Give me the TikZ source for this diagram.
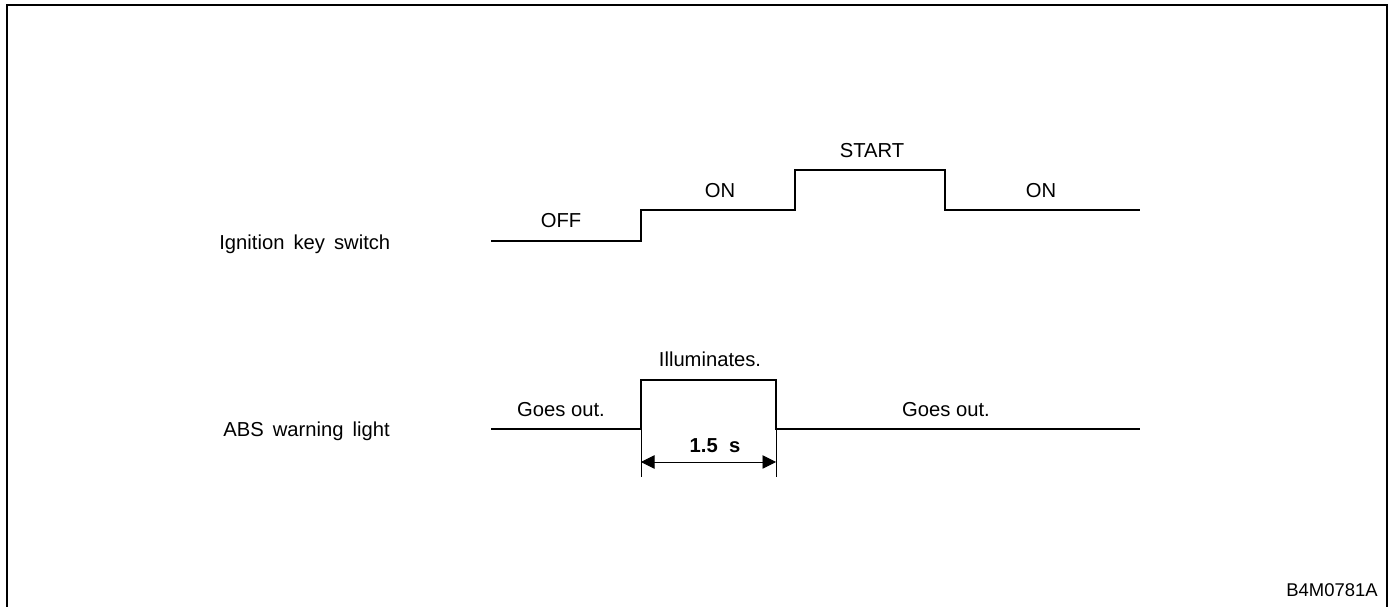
\documentclass[tikz,border=0pt]{standalone}
\usepackage{fontspec}
\setmainfont{Liberation Sans}
\usetikzlibrary{arrows.meta}
\tikzset{
  wave/.style={line width=1.5pt, line join=miter},
  lbl/.style={font=\fontsize{11.5}{13}\selectfont, inner sep=0pt, anchor=base},
  side/.style={lbl, anchor=base west, execute at begin node={\spaceskip=0.45em\relax}},
  dimline/.style={line width=0.55pt}
}
\begin{document}
\begin{tikzpicture}[x=0.02cm, y=-0.02cm]
  \useasboundingbox (0,0) rectangle (1390,607);
  % frame
  \draw[line width=0.9pt] (7,610) -- (7,5) -- (1387,5) -- (1387,610);

  % ignition key switch
  \node[side] (ign) at (219,250) {Ignition key switch};
  \coordinate (i0) at (491,241);
  \coordinate (i1) at (641,241);
  \coordinate (i2) at (641,210);
  \coordinate (i3) at (795,210);
  \coordinate (i4) at (795,170);
  \coordinate (i5) at (945,170);
  \coordinate (i6) at (945,210);
  \coordinate (i7) at (1140,210);
  \draw[wave] (i0) -- (i1) -- (i2) -- (i3) -- (i4) -- (i5) -- (i6) -- (i7);
  \node[lbl] (off) at (561,228) {OFF};
  \node[lbl] (on1) at (720,198) {ON};
  \node[lbl] (start) at (872,158) {START};
  \node[lbl] (on2) at (1041,198) {ON};

  % ABS warning light
  \node[side] (abs) at (223,437) {ABS warning light};
  \coordinate (a0) at (491,429);
  \coordinate (a1) at (641,429);
  \coordinate (a2) at (641,380);
  \coordinate (a3) at (776,380);
  \coordinate (a4) at (776,429);
  \coordinate (a5) at (1140,429);
  \draw[wave] (a0) -- (a1) -- (a2) -- (a3) -- (a4) -- (a5);
  \node[lbl] (out1) at (561,417) {Goes out.};
  \node[lbl] (illum) at (710,367) {Illuminates.};
  \node[lbl] (out2) at (946,417) {Goes out.};

  % 1.5 s
  \coordinate (d1) at (641,477);
  \coordinate (d2) at (776,477);
  \coordinate (p1) at (641,462);
  \coordinate (p2) at (776,462);
  \draw[dimline] (a1) -- (d1);
  \draw[dimline] (a4) -- (d2);
  \draw[dimline, {Triangle[length=0.27cm, width=0.27cm]}-{Triangle[length=0.27cm, width=0.27cm]}] (p1) -- (p2);
  \node[lbl, font=\fontsize{11.5}{13}\selectfont\bfseries] (dur) at (715,453) {1.5\ \ s};

  \node[lbl, anchor=base east, font=\fontsize{10.5}{12}\selectfont] (code) at (1378,597) {B4M0781A};
\end{tikzpicture}
\end{document}
